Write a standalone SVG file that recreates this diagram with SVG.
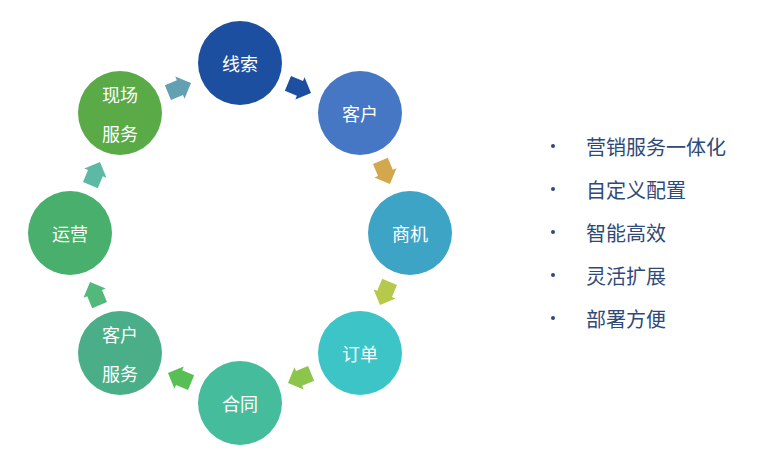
<svg xmlns="http://www.w3.org/2000/svg" width="773" height="461" viewBox="0 0 773 461">
<defs>
<style>
.n{font-family:"Noto Sans CJK SC","Noto Sans",sans-serif;font-size:18px;fill:#ffffff;text-anchor:middle;dominant-baseline:central}
.b{font-family:"Noto Sans CJK SC","Noto Sans",sans-serif;font-size:20px;fill:#2f4a78;dominant-baseline:central}
.d{fill:#2f4a78}
</style>
<path id="ar" d="M-12,-8 L1,-8 L1,-12 L13,0 L1,12 L1,8 L-12,8 Z"/>
</defs>
<rect width="773" height="461" fill="#ffffff"/>
<g id="connectors">
<use href="#ar" fill="#63a1b2" transform="translate(179,88) rotate(-22.5)"/>
<use href="#ar" fill="#1c4fa0" transform="translate(299,88) rotate(22.5)"/>
<use href="#ar" fill="#d3a84c" transform="translate(385,172) rotate(67.5)"/>
<use href="#ar" fill="#b7c94c" transform="translate(385,293) rotate(112.5)"/>
<use href="#ar" fill="#8cc54c" transform="translate(300,378) rotate(157.5)"/>
<use href="#ar" fill="#58bf55" transform="translate(180,378) rotate(202.5)"/>
<use href="#ar" fill="#52b87c" transform="translate(95,294) rotate(247.5)"/>
<use href="#ar" fill="#5bb9a4" transform="translate(95,174) rotate(292.5)"/>
</g>
<g id="node-xiansuo"><circle cx="240" cy="63" r="42" fill="#1c4fa0"/><text class="n" x="240" y="63">线索</text></g>
<g id="node-kehu"><circle cx="360" cy="113" r="42" fill="#4677c4"/><text class="n" x="360" y="113">客户</text></g>
<g id="node-shangji"><circle cx="410" cy="233" r="42" fill="#3ea4c6"/><text class="n" x="410" y="233">商机</text></g>
<g id="node-dingdan"><circle cx="360" cy="353" r="42" fill="#3cc4c6"/><text class="n" x="360" y="353">订单</text></g>
<g id="node-hetong"><circle cx="240" cy="403" r="42" fill="#45bd9c"/><text class="n" x="240" y="403">合同</text></g>
<g id="node-kehufuwu"><circle cx="120" cy="353" r="42" fill="#4aae88"/><text class="n" x="120" y="334">客户</text><text class="n" x="120" y="373">服务</text></g>
<g id="node-yunying"><circle cx="70" cy="233" r="42" fill="#48b06c"/><text class="n" x="70" y="233">运营</text></g>
<g id="node-xianchang"><circle cx="120" cy="113" r="42" fill="#5aaa48"/><text class="n" x="120" y="94">现场</text><text class="n" x="120" y="133">服务</text></g>
<g id="list">
<circle class="d" cx="553" cy="146" r="2"/><text class="b" x="586" y="146">营销服务一体化</text>
<circle class="d" cx="553" cy="189" r="2"/><text class="b" x="586" y="189">自定义配置</text>
<circle class="d" cx="553" cy="232" r="2"/><text class="b" x="586" y="232">智能高效</text>
<circle class="d" cx="553" cy="275" r="2"/><text class="b" x="586" y="275">灵活扩展</text>
<circle class="d" cx="553" cy="318" r="2"/><text class="b" x="586" y="318">部署方便</text>
</g>
</svg>
